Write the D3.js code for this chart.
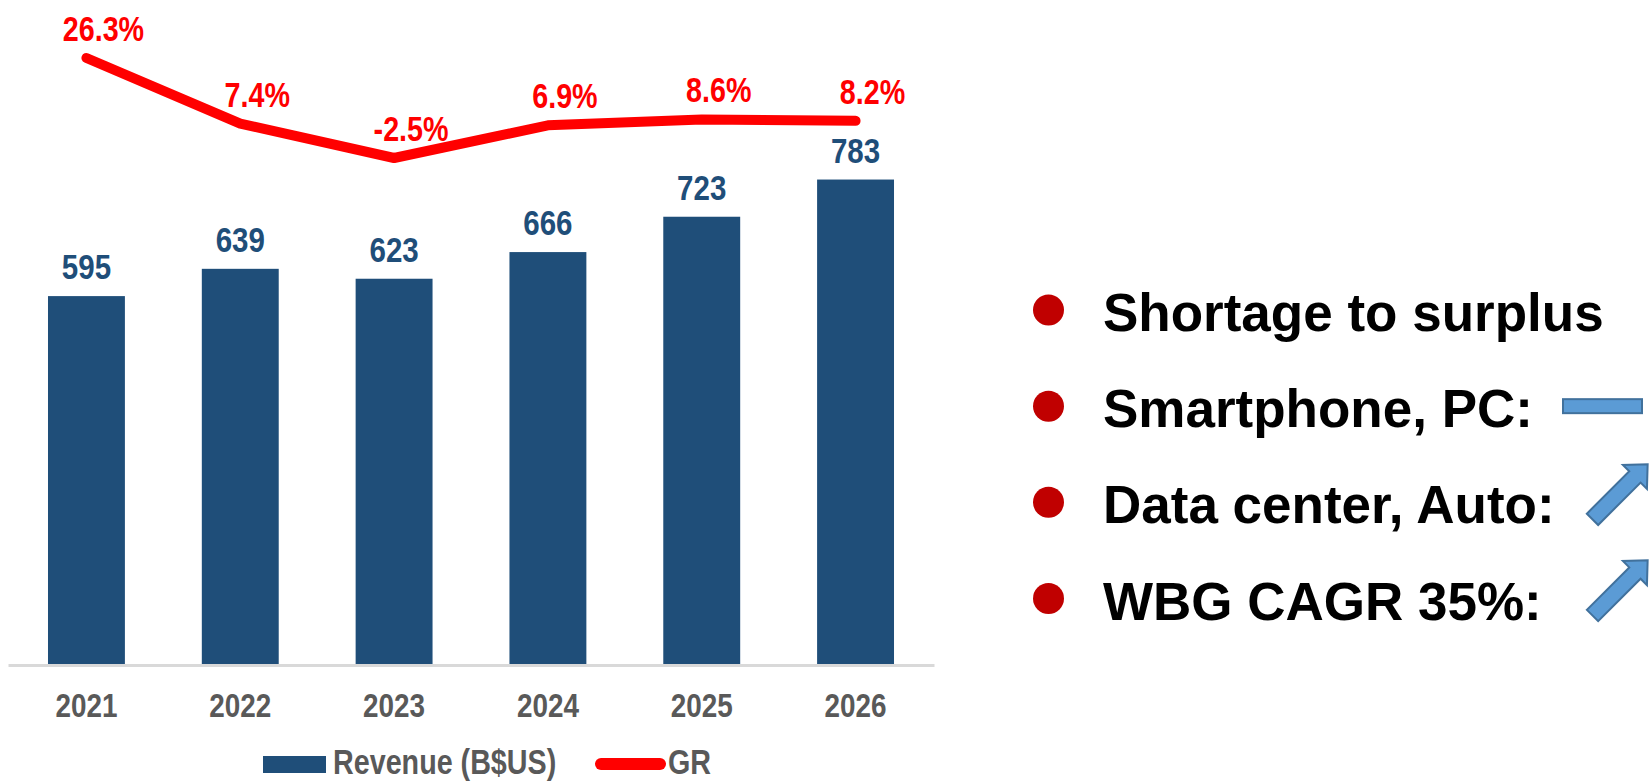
<!DOCTYPE html>
<html lang="en">
<head>
<meta charset="UTF-8">
<title>Revenue and GR</title>
<script src="https://d3js.org/d3.v7.min.js"></script>
<style>
    body { margin: 0; background: #fff; }
    .narrow { font-family: "Liberation Sans", Arial, sans-serif; font-weight: bold; }
    .bullet-text { font-family: "Liberation Sans", Arial, sans-serif; font-weight: bold; font-size: 53px; fill: #000; }
</style>
</head>
<body>
<svg width="1650" height="781"></svg>
<script>
    const years = ["2021", "2022", "2023", "2024", "2025", "2026"];
    const revenue = [595, 639, 623, 666, 723, 783];
    const growth = [26.3, 7.4, -2.5, 6.9, 8.6, 8.2];
    const seriesNames = ["Revenue (B$US)", "GR"];
    const bullets = ["Shortage to surplus", "Smartphone, PC:", "Data center, Auto:", "WBG CAGR 35%:"];
    const trends = ["none", "flat", "up", "up"];

    const blue = "#1f4e79", red = "#ff0000", grey = "#595959";
    const squeeze = 0.82; // no Arial Narrow here, so squash Liberation Sans
    const svg = d3.select("svg");

    const x = d3.scaleBand()
        .domain(years)
        .range([8, 934])
        .paddingInner(0.5)
        .paddingOuter(0.26);
    const cx = i => x(years[i]) + x.bandwidth() / 2;

    const y = d3.scaleLinear().domain([0, 1000]).range([665, 45]);
    const y2 = d3.scaleLinear().domain([-2.5, 26.3]).range([158, 58]);

    // bars
    svg.append("g").selectAll("rect")
        .data(revenue)
        .join("rect")
        .attr("x", (d, i) => x(years[i]))
        .attr("y", d => y(d))
        .attr("width", x.bandwidth())
        .attr("height", d => y(0) - y(d))
        .attr("fill", blue);

    svg.append("g").selectAll("text")
        .data(revenue)
        .join("text")
        .attr("class", "narrow")
        .attr("transform", (d, i) => `translate(${cx(i)},${y(d) - 17}) scale(${squeeze},1)`)
        .attr("text-anchor", "middle")
        .attr("font-size", 36)
        .attr("fill", blue)
        .text(d => d);

    // x axis
    const xAxis = svg.append("g")
        .attr("transform", `translate(0,${y(0)})`)
        .call(d3.axisBottom(x).tickSize(0).tickPadding(28));
    xAxis.select(".domain").attr("stroke", "#d9d9d9").attr("stroke-width", 3);
    xAxis.selectAll("text")
        .attr("class", "narrow")
        .attr("font-size", 34)
        .attr("fill", grey)
        .attr("transform", `scale(${squeeze},1)`);

    // growth line
    const line = d3.line()
        .x((d, i) => cx(i))
        .y(d => y2(d));

    svg.append("path")
        .datum(growth)
        .attr("d", line)
        .attr("fill", "none")
        .attr("stroke", red)
        .attr("stroke-width", 10)
        .attr("stroke-linecap", "round")
        .attr("stroke-linejoin", "round");

    svg.append("g").selectAll("text")
        .data(growth)
        .join("text")
        .attr("class", "narrow")
        .attr("transform", (d, i) => `translate(${cx(i) + 17},${y2(d) - 17}) scale(${squeeze},1)`)
        .attr("text-anchor", "middle")
        .attr("font-size", 35)
        .attr("fill", red)
        .text(d => d.toFixed(1) + "%");

    // legend
    const legend = svg.append("g").attr("class", "narrow").attr("font-size", 35).attr("fill", grey);
    legend.append("rect").attr("x", 263).attr("y", 756).attr("width", 63).attr("height", 17).attr("fill", blue);
    legend.append("text").attr("transform", `translate(333,774) scale(${squeeze},1)`).text(seriesNames[0]);
    legend.append("line").attr("x1", 601).attr("x2", 660).attr("y1", 764).attr("y2", 764)
        .attr("stroke", red).attr("stroke-width", 12).attr("stroke-linecap", "round");
    legend.append("text").attr("transform", `translate(668,774) scale(${squeeze},1)`).text(seriesNames[1]);

    // bullet list
    const rowY = d3.scaleLinear().domain([0, 3]).range([310, 598.5]);
    const rows = svg.append("g").selectAll("g")
        .data(bullets)
        .join("g")
        .attr("transform", (d, i) => `translate(0,${rowY(i)})`);

    rows.append("circle").attr("cx", 1048.5).attr("cy", 0).attr("r", 15.5).attr("fill", "#c00000");
    rows.append("text").attr("class", "bullet-text").attr("x", 1103).attr("y", 21).text(d => d);

    const arrowFill = "#5b9bd5", arrowStroke = "#41719c";
    rows.filter((d, i) => trends[i] === "flat")
        .append("rect")
        .attr("x", 1563).attr("y", -7).attr("width", 79).attr("height", 14)
        .attr("fill", arrowFill).attr("stroke", arrowStroke).attr("stroke-width", 2);

    const arrowShape = [[0, -8], [60, -8], [60, -17], [78, 0], [60, 17], [60, 8], [0, 8]];
    rows.filter((d, i) => trends[i] === "up")
        .append("polygon")
        .attr("points", arrowShape.map(p => p.join(",")).join(" "))
        .attr("transform", "translate(1592.5,17) rotate(-45)")
        .attr("fill", arrowFill).attr("stroke", arrowStroke).attr("stroke-width", 2)
        .attr("stroke-linejoin", "miter");
</script>
</body>
</html>
